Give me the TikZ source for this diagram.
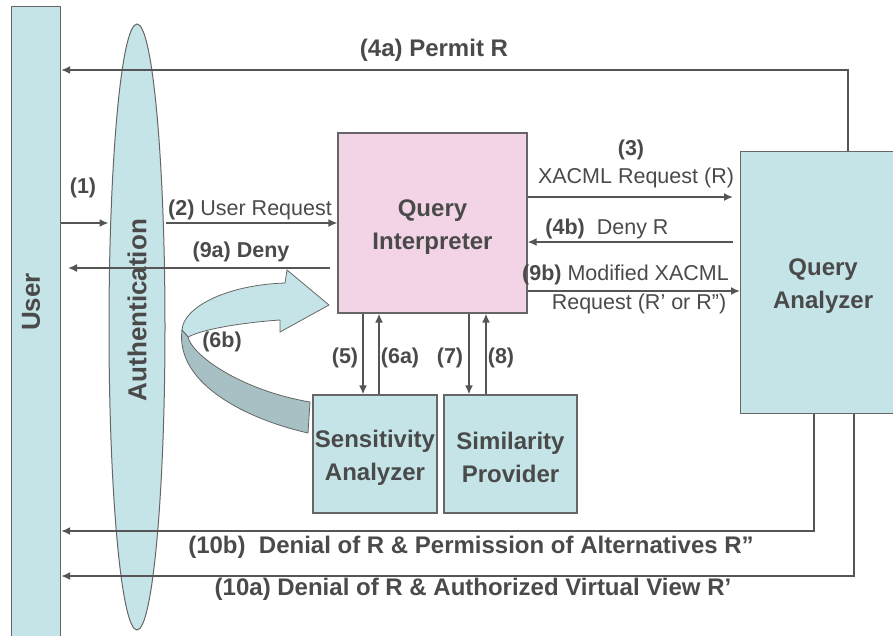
\documentclass[tikz,border=0pt]{standalone}
\usepackage{fontspec}
\setmainfont{Liberation Sans}
\usetikzlibrary{shapes.geometric,arrows.meta,calc}
\definecolor{tealfill}{HTML}{C5E4E7}
\definecolor{pinkfill}{HTML}{F2D4E6}
\definecolor{darkband}{HTML}{A6C0C4}
\definecolor{linegray}{HTML}{555555}
\definecolor{edgegray}{HTML}{666666}
\definecolor{txtgray}{HTML}{4A4A4A}
\newcommand{\pushdown}{\rule{0pt}{24pt}}
\tikzset{
 box/.style={draw=edgegray, line width=1.2pt, fill=tealfill, inner sep=0pt, text=txtgray, font=\fontsize{24}{33}\selectfont\bfseries, align=center},
 conn/.style={draw=linegray, line width=1.6pt, -{Latex[length=9pt,width=8pt]}},
 lbl/.style={text=txtgray, font=\fontsize{21.5}{26}\selectfont, inner sep=0pt},
 blbl/.style={text=txtgray, font=\fontsize{21.5}{26}\selectfont\bfseries, inner sep=0pt},
 biglbl/.style={text=txtgray, font=\fontsize{24}{28}\selectfont\bfseries, inner sep=0pt},
 ribbon/.style={draw=edgegray, line width=0.8pt},
}
\begin{document}
\begin{tikzpicture}[x=1pt,y=-1pt]
\useasboundingbox (0,0) rectangle (893,635);
\clip (0,0) rectangle (893,635);

% main shapes
\node[ellipse, draw=edgegray, line width=1pt, fill=tealfill, minimum width=56pt, minimum height=606pt, inner sep=0pt] (auth) at (137,327) {};
\node[box, minimum width=49pt, minimum height=650pt, anchor=north west] (user) at (11,6) {};
\node[box, fill=pinkfill, minimum width=189pt, minimum height=180pt] (qi) at (432.5,223) {\pushdown Query\\Interpreter};
\node[box, minimum width=165pt, minimum height=262pt, anchor=north west] (qa) at (740,151) {\pushdown Query\\Analyzer};
\node[box, minimum width=124pt, minimum height=118pt] (sa) at (375,454) {\pushdown Sensitivity\\Analyzer};
\node[box, minimum width=133pt, minimum height=118pt] (sp) at (510.5,454) {\pushdown Similarity\\Provider};

\node[biglbl, font=\fontsize{26}{30}\selectfont\bfseries, rotate=90] (userlbl) at (31,302) {User};
\node[biglbl, font=\fontsize{26}{30}\selectfont\bfseries, rotate=90] (authlbl) at (137,310) {Authentication};

% helper coordinates
\coordinate (y70) at (0,70);
\coordinate (y197) at (0,197);
\coordinate (y291) at (0,291);
\coordinate (y531) at (0,531);
\coordinate (y576) at (0,576);
\coordinate (x4a) at (848,0);
\coordinate (x5) at (363,0);
\coordinate (x6a) at (379,0);
\coordinate (x7) at (469,0);
\coordinate (x8) at (486,0);
\coordinate (x10b) at (814,0);
\coordinate (x10a) at (854,0);
\coordinate (c9as) at (330,268);
\coordinate (c9ae) at (68,268);
\coordinate (c3e) at (733,197);
\coordinate (c4bs) at (733,242);

% connectors
\draw[conn] (x4a |- qa.north) |- (user.east |- y70);
\draw[conn] (user.east |- qi.west) -- (auth.west |- qi.west);
\draw[conn] (auth.east |- qi.west) -- (qi.west);
\draw[conn] (c9as) -- (c9ae);
\draw[conn] (qi.east |- y197) -- (c3e);
\draw[conn] (c4bs) -- (qi.east |- c4bs);
\draw[conn] (qi.east |- y291) -- (qa.west |- y291);
\draw[conn] (x5 |- qi.south) -- (x5 |- sa.north);
\draw[conn] (x6a |- sa.north) -- (x6a |- qi.south);
\draw[conn] (x7 |- qi.south) -- (x7 |- sp.north);
\draw[conn] (x8 |- sp.north) -- (x8 |- qi.south);
\draw[conn] (x10b |- qa.south) |- (user.east |- y531);
\draw[conn] (x10a |- qa.south) |- (user.east |- y576);

% curved block arrow (6b)
\filldraw[ribbon, fill=tealfill] (182,330) .. controls (183,308) and (225,285) .. (285,283) -- (287,270) -- (329,305) -- (280,332) -- (280,320) .. controls (250,322) and (205,328) .. (188,337) -- cycle;
\filldraw[ribbon, fill=darkband] (188,337) .. controls (192,355) and (240,390) .. (310,402) -- (308,433) .. controls (250,420) and (175,385) .. (182,330) -- cycle;

% labels
\node[biglbl] (l4a) at (434,50) {(4a) Permit R};
\node[blbl] (l1) at (83,188) {(1)};
\node[lbl] (l2) at (250,210) {\textbf{(2)} User Request};
\node[blbl] (l9a) at (241,252) {(9a) Deny};
\node[blbl] (l3) at (631,150) {(3)};
\node[lbl] (l3b) at (636,178) {XACML Request (R)};
\node[lbl] (l4b) at (607,229) {\textbf{(4b)}\ \ Deny R};
\node[lbl] (l9b) at (625.5,275) {\textbf{(9b)} Modified XACML};
\node[lbl] (l9b2) at (639,304) {Request (R’ or R”)};
\node[blbl] (l6b) at (222,342) {(6b)};
\node[blbl] (l5) at (345,358) {(5)};
\node[blbl] (l6a) at (400,358) {(6a)};
\node[blbl] (l7) at (450,358) {(7)};
\node[blbl] (l8) at (501,358) {(8)};
\node[biglbl] (l10b) at (471,547) {(10b)\ \ Denial of R \& Permission of Alternatives R”};
\node[biglbl] (l10a) at (473,589) {(10a) Denial of R \& Authorized Virtual View R’};
\end{tikzpicture}
\end{document}
